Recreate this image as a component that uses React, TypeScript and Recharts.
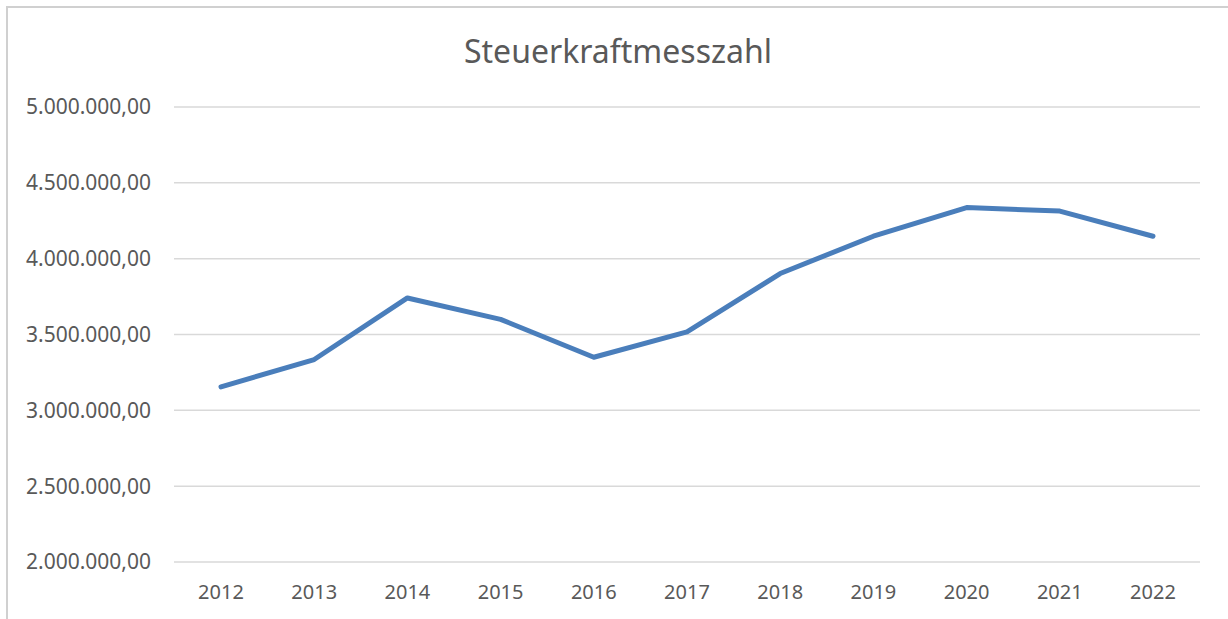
import { LineChart, Line, XAxis, YAxis, CartesianGrid } from 'recharts';

// Steuerkraftmesszahl per year
const years = ['2012', '2013', '2014', '2015', '2016', '2017', '2018', '2019', '2020', '2021', '2022'];
const amounts = [
  3155000, 3335000, 3741000, 3600000, 3350000, 3517000,
  3902000, 4148000, 4337000, 4314000, 4148000,
];
const yTicks = [2000000, 2500000, 3000000, 3500000, 4000000, 4500000, 5000000];

const data = years.map((year, i) => ({ year, value: amounts[i] }));

const FONT = '"Noto Sans", "Open Sans", sans-serif';
const TEXT = '#595959';

// 5000000 -> "5.000.000,00"
function formatDe(v: number) {
  const int = Math.round(v).toString().replace(/\B(?=(\d{3})+(?!\d))/g, '.');
  return `${int},00`;
}

export default function App() {
  return (
    <div
      style={{
        position: 'absolute',
        left: 6,
        top: 6,
        width: 1220,
        height: 611,
        borderLeft: '2px solid #d0d0d0',
        borderTop: '2px solid #d0d0d0',
        background: '#fff',
        fontFamily: FONT,
      }}
    >
      <div
        style={{
          position: 'absolute',
          left: 0,
          top: 21,
          width: 1220,
          textAlign: 'center',
          fontSize: 32,
          color: TEXT,
        }}
      >
        Steuerkraftmesszahl
      </div>
      <LineChart
        width={1220}
        height={611}
        data={data}
        margin={{ top: 99, right: 28, bottom: 27, left: 0 }}
      >
        <CartesianGrid vertical={false} stroke="#d9d9d9" strokeWidth={1.5} />
        <XAxis
          dataKey="year"
          axisLine={false}
          tickLine={false}
          tickSize={0}
          tickMargin={23}
          height={30}
          padding={{ left: 47, right: 47 }}
          tick={{ fill: TEXT, fontSize: 20, fontFamily: FONT }}
        />
        <YAxis
          domain={[2000000, 5000000]}
          ticks={yTicks}
          tickFormatter={formatDe}
          axisLine={false}
          tickLine={false}
          tickSize={0}
          tickMargin={23}
          width={166}
          tick={{ fill: TEXT, fontSize: 21, fontFamily: FONT }}
        />
        <Line
          type="linear"
          dataKey="value"
          stroke="#4a7ebb"
          strokeWidth={5}
          strokeLinecap="round"
          strokeLinejoin="round"
          dot={false}
          activeDot={false}
          isAnimationActive={false}
        />
      </LineChart>
    </div>
  );
}
